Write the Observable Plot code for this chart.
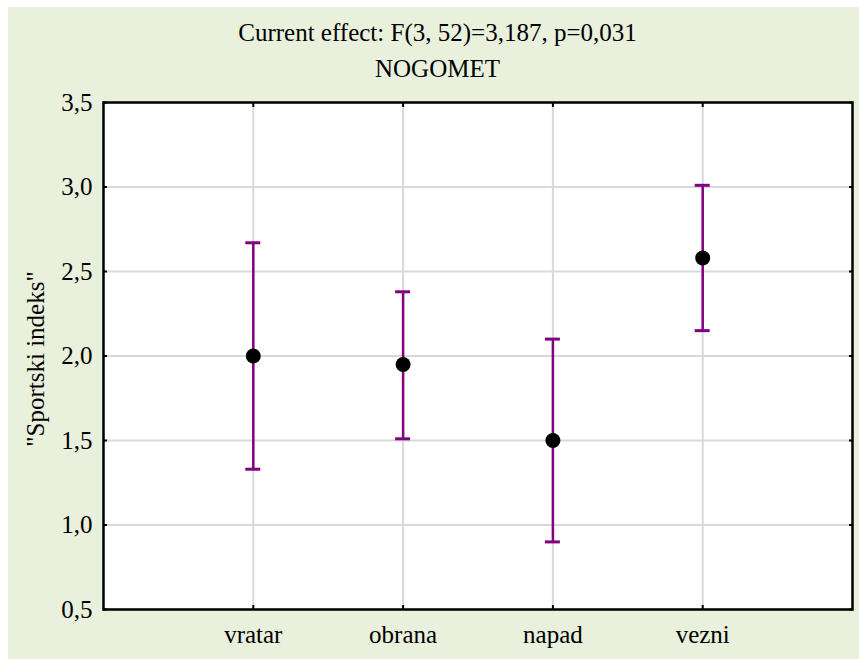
<!DOCTYPE html>
<html>
<head>
<meta charset="utf-8">
<script src="https://cdn.jsdelivr.net/npm/d3@7"></script>
<script src="https://cdn.jsdelivr.net/npm/@observablehq/plot@0.6"></script>
<style>
  html, body { margin: 0; padding: 0; background: #ffffff; }
  #panel {
    position: absolute; left: 8px; top: 7px; width: 851px; height: 652px;
    background: #e9f0dc; font-family: "Liberation Serif", "Times New Roman", serif;
  }
  .title {
    position: absolute; left: 4px; width: 851px; text-align: center;
    font-size: 25px; line-height: 25px; color: #000; white-space: nowrap;
  }
  #chart { position: absolute; left: 0; top: 0; }
</style>
</head>
<body>
<div id="panel">
  <div class="title" style="top:13px">Current effect: F(3, 52)=3,187, p=0,031</div>
  <div class="title" style="top:49px">NOGOMET</div>
  <div id="chart"></div>
</div>
<script>
const categories = ["vratar", "obrana", "napad", "vezni"];
const means = [2.00, 1.95, 1.50, 2.58];
const lower = [1.33, 1.51, 0.90, 2.15];
const upper = [2.67, 2.38, 2.10, 3.01];
const yTicks = [0.5, 1.0, 1.5, 2.0, 2.5, 3.0, 3.5];
const yLabel = "\"Sportski indeks\"";

const data = categories.map((c, i) => ({cat: c, mean: means[i], lo: lower[i], hi: upper[i]}));
const fmt = d => d.toFixed(1).replace(".", ",");
const noText = () => "";

const chart = Plot.plot({
  width: 851,
  height: 652,
  marginLeft: 95,
  marginRight: 7,
  marginTop: 95,
  marginBottom: 50,
  style: {background: "transparent", fontFamily: "Liberation Serif, Times New Roman, serif", fontSize: "25px", color: "#000"},
  x: {type: "band", domain: categories, paddingInner: 0.9, paddingOuter: 0.95, round: false},
  y: {domain: [0.5, 3.5]},
  marks: [
    Plot.frame({fill: "white"}),
    Plot.gridX(categories, {stroke: "#d9d9d9", strokeOpacity: 1, strokeWidth: 2}),
    Plot.gridY(yTicks, {stroke: "#d9d9d9", strokeOpacity: 1, strokeWidth: 2}),
    Plot.axisY(yTicks, {anchor: "left", tickSize: 0, tickPadding: 11, tickFormat: fmt, fontSize: 25, label: null}),
    Plot.axisY(yTicks, {anchor: "left", tickSize: -4, tickFormat: noText, label: null, strokeWidth: 2}),
    Plot.axisY(yTicks, {anchor: "right", tickSize: -4, tickFormat: noText, label: null, strokeWidth: 2}),
    Plot.axisX(categories, {anchor: "bottom", tickSize: 0, tickPadding: 16, fontSize: 25, label: null}),
    Plot.axisX(categories, {anchor: "bottom", tickSize: -4, tickFormat: noText, label: null, strokeWidth: 2}),
    Plot.axisX(categories, {anchor: "top", tickSize: -4, tickFormat: noText, label: null, strokeWidth: 2}),
    Plot.text([yLabel], {frameAnchor: "left", text: d => d, rotate: -90, dx: -68, dy: 3, fontSize: 25, lineAnchor: "middle", textAnchor: "middle", fill: "black"}),
    Plot.ruleX(data, {x: "cat", y1: "lo", y2: "hi", stroke: "#800080", strokeWidth: 2.5}),
    Plot.tickY(data, {x: "cat", y: "hi", stroke: "#800080", strokeWidth: 3}),
    Plot.tickY(data, {x: "cat", y: "lo", stroke: "#800080", strokeWidth: 3}),
    Plot.dot(data, {x: "cat", y: "mean", r: 7.5, fill: "black", stroke: "none"}),
    Plot.frame({stroke: "black", strokeWidth: 2.5})
  ]
});
document.getElementById("chart").appendChild(chart);
</script>
</body>
</html>
